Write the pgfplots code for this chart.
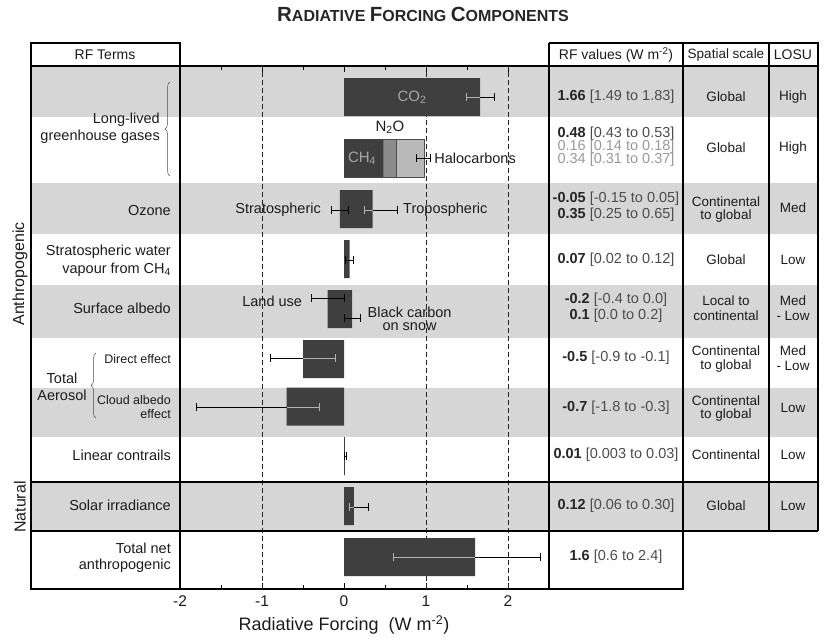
\documentclass[border=0pt]{standalone}
\usepackage{pgfplots}
\pgfplotsset{compat=1.18}
\usepackage{pgfplotstable}
\usepackage{fontspec}
\setmainfont{Liberation Sans}
\usetikzlibrary{decorations.pathreplacing}
\definecolor{rowgray}{HTML}{D6D6D6}
\definecolor{bardark}{HTML}{3F3F3F}
\definecolor{barmid}{HTML}{8C8C8C}
\definecolor{barlight}{HTML}{B9B9B9}
\definecolor{txt}{HTML}{1C1C1C}
\newcommand{\fs}[1]{\fontsize{#1}{#1}\selectfont}
\newcommand{\rv}[2]{{\color{black!85}\bfseries #1} {\color{black!70}#2}}

\pgfplotstableread{
y val lo hi
492 1.66 1.49 1.83
431 0.98 0.88 1.05
379 -0.05 -0.15 0.05
379 0.35 0.25 0.65
329 0.07 0.02 0.12
291 -0.2 -0.4 0.0
271 0.1 0.0 0.2
231 -0.5 -0.9 -0.1
182 -0.7 -1.8 -0.3
133 0.01 0.003 0.03
82 0.12 0.06 0.30
32 1.6 0.6 2.4
}\errtab

\pgfplotstableread{
y val lo
492 1.66 1.49
379 0.35 0.25
82 0.12 0.06
32 1.6 0.6
}\inpos

\pgfplotstableread{
y val hi
231 -0.5 -0.1
182 -0.7 -0.3
}\inneg

\begin{document}
\begin{tikzpicture}
\begin{scope}[x=1pt,y=-1pt]
\path[use as bounding box] (0,0) rectangle (827,637);
\fill[rowgray] (31,66) rectangle (818,117);
\fill[rowgray] (31,183) rectangle (818,234);
\fill[rowgray] (31,285) rectangle (818,338);
\fill[rowgray] (31,388) rectangle (818,437);
\fill[rowgray] (31,482) rectangle (818,531);
\end{scope}

\begin{axis}[
  at={(180pt,-589pt)}, anchor=south west,
  scale only axis, width=369pt, height=523pt,
  xmin=-2, xmax=2.5, ymin=0, ymax=523,
  clip=false,
  axis line style={black, line width=1.2pt},
  ytick=\empty,
  xtick={-2,-1,0,1,2},
  minor xtick={-1.5,-0.5,0.5,1.5},
  tick align=inside,
  major tick length=6pt, minor tick length=4pt,
  tick style={black, line width=0.8pt},
  /pgf/number format/assume math mode=true,
  xticklabel style={font=\fs{15.5}, text=txt, yshift=-3pt},
  extra x ticks={-1,1,2}, extra x tick labels={},
  extra x tick style={grid=major, major tick length=0pt},
  major grid style={black!85, dash pattern=on 5pt off 3pt, line width=0.7pt},
]
\addplot[xbar, bar shift=0pt, bar width=38, fill=barlight, draw=black!70, line width=0.4pt] coordinates {(0.98,431)};
\addplot[xbar, bar shift=0pt, bar width=38, fill=barmid, draw=black!70, line width=0.4pt] coordinates {(0.64,431)};
\addplot[xbar, bar shift=0pt, bar width=38, fill=bardark, draw=none] coordinates {
 (1.66,492) (0.48,431) (-0.05,380) (0.35,380) (0.07,330) (-0.2,280) (0.1,280)
 (-0.5,230) (-0.7,182.5) (0.01,133) (0.12,83) (1.6,32)};

\addplot[draw=none, mark=none, error bars/.cd, x dir=both, x explicit,
  error bar style={draw=black, line width=0.8pt, solid}, error mark=|,
  error mark options={draw=black, line width=0.8pt, mark size=4pt}]
  table[x=val, y=y, x error plus expr=\thisrow{hi}-\thisrow{val}, x error minus expr=\thisrow{val}-\thisrow{lo}] {\errtab};
\addplot[draw=none, mark=none, error bars/.cd, x dir=minus, x explicit,
  error bar style={draw=black!30, line width=0.8pt, solid}, error mark=|,
  error mark options={draw=black!30, line width=0.8pt, mark size=4pt}]
  table[x=val, y=y, x error minus expr=\thisrow{val}-\thisrow{lo}] {\inpos};
\addplot[draw=none, mark=none, error bars/.cd, x dir=plus, x explicit,
  error bar style={draw=black!30, line width=0.8pt, solid}, error mark=|,
  error mark options={draw=black!30, line width=0.8pt, mark size=4pt}]
  table[x=val, y=y, x error plus expr=\thisrow{hi}-\thisrow{val}] {\inneg};

\node[font=\fs{15}, text=black!35] at (axis cs:0.83,492) {CO\textsubscript{2}};
\node[font=\fs{15}, text=txt] at (axis cs:0.56,462) {N\textsubscript{2}O};
\node[font=\fs{15}, text=black!35] at (axis cs:0.22,431) {CH\textsubscript{4}};
\node[font=\fs{14.5}, text=txt, anchor=west, inner sep=0pt] at (axis cs:1.1,431) {Halocarbons};
\node[font=\fs{14.5}, text=txt, anchor=east, inner sep=0pt] at (axis cs:-0.28,379) {Stratospheric};
\node[font=\fs{14.5}, text=txt, anchor=west, inner sep=0pt] at (axis cs:0.72,379) {Tropospheric};
\node[font=\fs{14.5}, text=txt, anchor=east, inner sep=0pt] at (axis cs:-0.51,288) {Land use};
\node[font=\fontsize{14.5}{13}\selectfont, text=txt, align=center, inner sep=0pt] at (axis cs:0.8,270) {Black carbon\\on snow};
\end{axis}

\begin{scope}[x=1pt,y=-1pt, every node/.style={inner sep=0pt, text=txt}]
% frames
\draw[line width=1.3pt] (31,43) rectangle (180,589);
\draw[line width=1.3pt] (31,66) -- (180,66);
\draw[line width=1.3pt] (31,482) -- (818,482);
\draw[line width=1.3pt] (31,531) -- (818,531);
\draw[line width=1.3pt] (549,43) -- (818,43) -- (818,531);
\draw[line width=1.3pt] (549,43) -- (549,589) -- (683,589) -- (683,43);
\draw[line width=1.3pt] (769,43) -- (769,531);
\draw[line width=1.3pt] (549,66) -- (818,66);

% title
\node[text=black!85] at (423,14) {\bfseries\fs{20.5}R\fs{16}ADIATIVE \fs{20.5}F\fs{16}ORCING \fs{20.5}C\fs{16}OMPONENTS};
% x label
\node at (344,625) {\fs{18}Radiative Forcing\ \ (W m\textsuperscript{-2})};

% headers
\node at (105,55) {\fs{14}RF Terms};
\node at (616,55) {\fs{14}RF values (W m\textsuperscript{-2})};
\node at (726,55) {\fs{13.5}Spatial scale};
\node at (793,55) {\fs{14}LOSU};

% left labels
\node[rotate=90] at (20,274) {\fs{16}Anthropogenic};
\node[rotate=90] at (20,507) {\fs{16}Natural};
\node[anchor=east] at (160,120) {\fs{14.5}Long-lived};
\node[anchor=east] at (160,137) {\fs{14.5}greenhouse gases};
\draw[decorate, decoration={brace, amplitude=5pt}, line width=0.5pt, black!70] (170,176) -- (170,82);
\node[anchor=east] at (171,211) {\fs{14.5}Ozone};
\node[anchor=east] at (171,252) {\fs{14.5}Stratospheric water};
\node[anchor=east] at (171,270) {\fs{14.5}vapour from CH\textsubscript{4}};
\node[anchor=east] at (171,308) {\fs{14.5}Surface albedo};
\node at (62,378) {\fs{14.5}Total};
\node at (62,395) {\fs{14.5}Aerosol};
\draw[decorate, decoration={brace, amplitude=5pt}, line width=0.5pt, black!70] (96,418) -- (96,353);
\node[anchor=east] at (171,359) {\fs{12.5}Direct effect};
\node[anchor=east] at (171,400) {\fs{12.5}Cloud albedo};
\node[anchor=east] at (171,414) {\fs{12.5}effect};
\node[anchor=east] at (171,455) {\fs{14.5}Linear contrails};
\node[anchor=east] at (171,505) {\fs{14.5}Solar irradiance};
\node[anchor=east] at (171,548) {\fs{14.5}Total net};
\node[anchor=east] at (171,566) {\fs{14.5}anthropogenic};

% RF values
\node at (616,97) {\fs{14.5}\rv{1.66}{[1.49 to 1.83]}};
\node at (616,134) {\fs{14.5}\rv{0.48}{[0.43 to 0.53]}};
\node[text=black!40] at (616,147) {\fs{14.5}0.16 [0.14 to 0.18]};
\node[text=black!40] at (616,160) {\fs{14.5}0.34 [0.31 to 0.37]};
\node at (616,199) {\fs{14.5}\rv{-0.05}{[-0.15 to 0.05]}};
\node at (616,215) {\fs{14.5}\rv{0.35}{[0.25 to 0.65]}};
\node at (616,260) {\fs{14.5}\rv{0.07}{[0.02 to 0.12]}};
\node at (616,300) {\fs{14.5}\rv{-0.2}{[-0.4 to 0.0]}};
\node at (616,316) {\fs{14.5}\rv{0.1}{[0.0 to 0.2]}};
\node at (616,358) {\fs{14.5}\rv{-0.5}{[-0.9 to -0.1]}};
\node at (616,408) {\fs{14.5}\rv{-0.7}{[-1.8 to -0.3]}};
\node at (616,455) {\fs{14.5}\rv{0.01}{[0.003 to 0.03]}};
\node at (616,506) {\fs{14.5}\rv{0.12}{[0.06 to 0.30]}};
\node at (616,557) {\fs{14.5}\rv{1.6}{[0.6 to 2.4]}};

% spatial scale
\node at (726,97) {\fs{13.5}Global};
\node at (726,148) {\fs{13.5}Global};
\node at (726,202) {\fs{13.5}Continental};
\node at (726,216) {\fs{13.5}to global};
\node at (726,260) {\fs{13.5}Global};
\node at (726,301) {\fs{13.5}Local to};
\node at (726,316) {\fs{13.5}continental};
\node at (726,351) {\fs{13.5}Continental};
\node at (726,366) {\fs{13.5}to global};
\node at (726,401) {\fs{13.5}Continental};
\node at (726,415) {\fs{13.5}to global};
\node at (726,455) {\fs{13.5}Continental};
\node at (726,506) {\fs{13.5}Global};

% LOSU
\node at (793,97) {\fs{13.5}High};
\node at (793,148) {\fs{13.5}High};
\node at (793,208) {\fs{13.5}Med};
\node at (793,260) {\fs{13.5}Low};
\node at (793,301) {\fs{13.5}Med};
\node at (793,316) {\fs{13.5}- Low};
\node at (793,351) {\fs{13.5}Med};
\node at (793,366) {\fs{13.5}- Low};
\node at (793,408) {\fs{13.5}Low};
\node at (793,455) {\fs{13.5}Low};
\node at (793,506) {\fs{13.5}Low};
\end{scope}
\end{tikzpicture}
\end{document}
